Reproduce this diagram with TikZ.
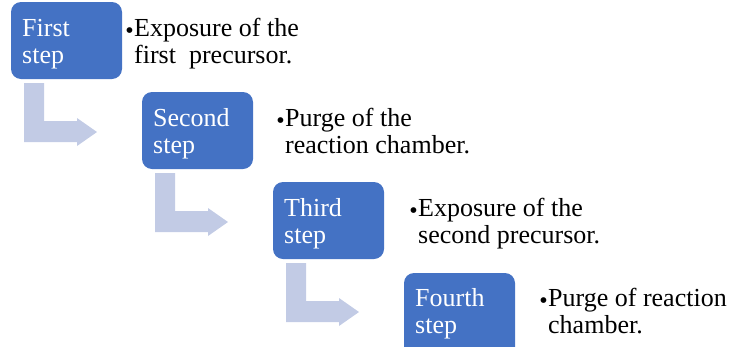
\documentclass[tikz,border=0pt]{standalone}
\usepackage{fontspec}
\setmainfont{Liberation Serif}
\definecolor{stepblue}{RGB}{68,114,196}
\definecolor{bendfill}{RGB}{194,203,229}
\begin{document}
\begin{tikzpicture}[x=1pt,y=-1pt,
  stepbox/.style={fill=stepblue, rounded corners=10pt, draw=none},
  steplabel/.style={anchor=base west, inner sep=0pt, text=white, align=left,
    font=\fontsize{26}{27.5}\selectfont},
  desc/.style={anchor=base west, inner sep=0pt, align=left,
    font=\fontsize{26}{27.5}\selectfont},
  dot/.style={anchor=base east, inner sep=0pt, font=\fontsize{24}{27.5}\selectfont},
  bendarrow/.style={fill=bendfill, draw=none}]
\useasboundingbox (0,0) rectangle (734,346);

% bent arrows linking consecutive steps
\foreach \i in {0,1,2} {
  \begin{scope}[shift={(131*\i,90*\i)}]
    \fill[bendarrow] (24,83) -- (44,83) -- (44,121) -- (77,121) -- (77,118)
      -- (97,132) -- (77,146) -- (77,142) -- (24,142) -- cycle;
  \end{scope}
}

% step boxes
\foreach \i in {0,1,2} {
  \path[stepbox] (11+131*\i,2+90*\i) rectangle (122+131*\i,79+90*\i);
}
% fourth box runs past the lower edge
\path[stepbox] (404,273) rectangle (515,360);

% labels are placed by the baseline of their second line
\node[steplabel] (s1) at (22,63.5) {First\\step};
\node[steplabel] (s2) at (153,153.5) {Second\\step};
\node[steplabel] (s3) at (284,243.5) {Third\\step};
\node[steplabel] (s4) at (415,333.5) {Fourth\\step};

% descriptions, each with a bullet on its first line
\node[desc] (d1) at (134,63.5) {Exposure of the\\first\ \ precursor.};
\node[dot] at ([yshift=25pt]d1.base west) {\textbullet};
\node[desc] (d2) at (285,153.5) {Purge of the\\reaction chamber.};
\node[dot] at ([yshift=25pt]d2.base west) {\textbullet};
\node[desc] (d3) at (418,243.5) {Exposure of the\\second precursor.};
\node[dot] at ([yshift=25pt]d3.base west) {\textbullet};
\node[desc] (d4) at (548,333.5) {Purge of reaction\\chamber.};
\node[dot] at ([yshift=25pt]d4.base west) {\textbullet};
\end{tikzpicture}
\end{document}
